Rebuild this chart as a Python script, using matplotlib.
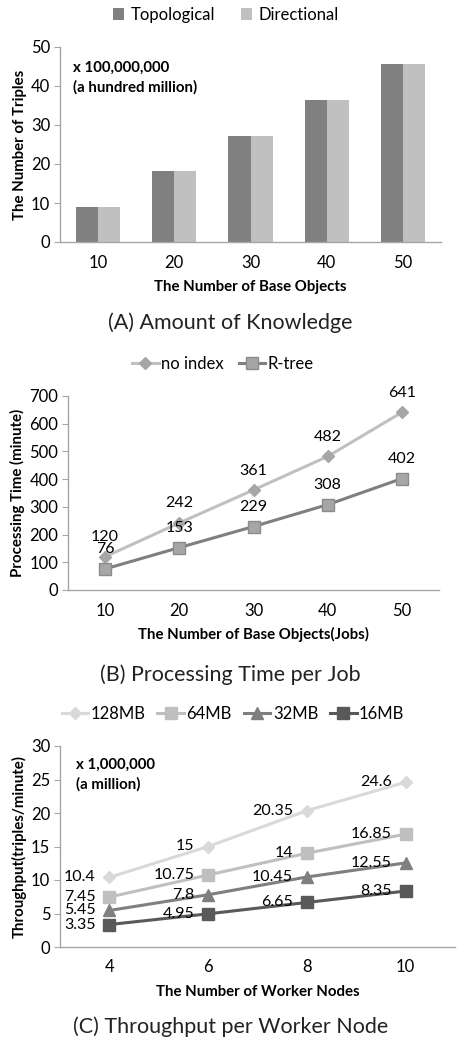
import matplotlib.pyplot as plt

plt.rcParams['font.family'] = ['Lato', 'DejaVu Sans']

# (A) amount of knowledge
base_objects = ['10', '20', '30', '40', '50']
topological = [9.1, 18.2, 27.3, 36.5, 45.7]
directional = [9.1, 18.2, 27.3, 36.5, 45.7]

# (B) processing time per job
no_index = [120, 242, 361, 482, 641]
rtree = [76, 153, 229, 308, 402]

# (C) throughput per worker node
worker_nodes = ['4', '6', '8', '10']
mb128 = [10.4, 15, 20.35, 24.6]
mb64 = [7.45, 10.75, 14, 16.85]
mb32 = [5.45, 7.8, 10.45, 12.55]
mb16 = [3.35, 4.95, 6.65, 8.35]

W, H = 461, 1044
fig = plt.figure(figsize=(W / 100, H / 100), dpi=100)

SPINE = '#a6a6a6'
TXT = '#000000'
TICK_FS = 12
DATA_FS = 11.5
LAB_FS = 10.8
TITLE_FS = 15.5


def px_axes(left, top, right, bottom):
    return fig.add_axes([left / W, 1 - bottom / H, (right - left) / W, (bottom - top) / H])


def style(ax):
    for s in ['top', 'right']:
        ax.spines[s].set_visible(False)
    for s in ['left', 'bottom']:
        ax.spines[s].set_color(SPINE)
        ax.spines[s].set_linewidth(1)
    ax.tick_params(axis='y', length=4, color=SPINE, labelsize=TICK_FS, labelcolor=TXT, pad=3)
    ax.tick_params(axis='x', length=0, labelsize=TICK_FS, labelcolor=TXT, pad=9)


def fig_text(y, s, **kw):
    fig.text(0.5, 1 - y / H, s, ha='center', va='center', **kw)


# ---- panel A ----
ax = px_axes(60, 47, 441, 242)
x = range(len(base_objects))
bw = 0.29
ax.bar([i - bw / 2 for i in x], topological, width=bw, color='#808080', label='Topological')
ax.bar([i + bw / 2 for i in x], directional, width=bw, color='#c0c0c0', label='Directional')
ax.set_xlim(-0.5, 4.5)
ax.set_ylim(0, 50)
ax.set_yticks(range(0, 51, 10))
ax.set_xticks(list(x))
ax.set_xticklabels(base_objects)
style(ax)
ax.set_ylabel('The Number of Triples', fontsize=LAB_FS, fontweight='bold', labelpad=3)
ax.set_xlabel('The Number of Base Objects', fontsize=LAB_FS, fontweight='bold', labelpad=7)
ax.text(0.035, 0.93, 'x 100,000,000\n(a hundred million)', transform=ax.transAxes,
        fontsize=10.8, fontweight='bold', va='top', ha='left', linespacing=1.45)
fig.legend(*ax.get_legend_handles_labels(), loc='center', bbox_to_anchor=(226 / W, 1 - 15 / H),
           ncol=2, frameon=False, fontsize=TICK_FS, handlelength=0.7, handleheight=0.7,
           handletextpad=0.4, columnspacing=1.5)
fig_text(323, '(A) Amount of Knowledge', fontsize=TITLE_FS, color='#222222')

# ---- panel B ----
ax = px_axes(68, 396, 439, 590)
x = list(range(len(base_objects)))
ax.plot(x, no_index, color='#c0c0c0', lw=2.2, marker='D', ms=6,
        mfc='#a6a6a6', mec='#a6a6a6', label='no index')
ax.plot(x, rtree, color='#7f7f7f', lw=2.2, marker='s', ms=8,
        mfc='#a6a6a6', mec='#8c8c8c', label='R-tree')
for xi, v in zip(x, no_index):
    ax.annotate(str(v), (xi, v), xytext=(0, 14), textcoords='offset points',
                ha='center', va='center', fontsize=DATA_FS, color=TXT)
for xi, v in zip(x, rtree):
    ax.annotate(str(v), (xi, v), xytext=(0, 14), textcoords='offset points',
                ha='center', va='center', fontsize=DATA_FS, color=TXT)
ax.set_xlim(-0.5, 4.5)
ax.set_ylim(0, 700)
ax.set_yticks(range(0, 701, 100))
ax.set_xticks(x)
ax.set_xticklabels(base_objects)
style(ax)
ax.set_ylabel('Processing Time (minute)', fontsize=LAB_FS, fontweight='bold', labelpad=3)
ax.set_xlabel('The Number of Base Objects(Jobs)', fontsize=LAB_FS, fontweight='bold', labelpad=6)
fig.legend(*ax.get_legend_handles_labels(), loc='center', bbox_to_anchor=(223 / W, 1 - 364 / H),
           ncol=2, frameon=False, fontsize=TICK_FS, handlelength=1.6,
           handletextpad=0.15, columnspacing=0.9)
fig_text(675, '(B) Processing Time per Job', fontsize=TITLE_FS, color='#222222')

# ---- panel C ----
ax = px_axes(60, 746, 455, 947)
x = list(range(len(worker_nodes)))
series = [(mb128, '128MB', '#d9d9d9', 'D', 6),
          (mb64, '64MB', '#bfbfbf', 's', 8),
          (mb32, '32MB', '#7f7f7f', '^', 8),
          (mb16, '16MB', '#595959', 's', 8)]
for vals, name, col, mk, ms in series:
    ax.plot(x, vals, color=col, lw=2.2, marker=mk, ms=ms, mfc=col, mec=col, label=name)
    for xi, v in zip(x, vals):
        ax.annotate(f'{v:g}', (xi, v), xytext=(-10, 0), textcoords='offset points',
                    ha='right', va='center', fontsize=DATA_FS, color=TXT)
ax.set_xlim(-0.5, 3.5)
ax.set_ylim(0, 30)
ax.set_yticks(range(0, 31, 5))
ax.set_xticks(x)
ax.set_xticklabels(worker_nodes)
style(ax)
ax.set_ylabel('Throughput(triples/minute)', fontsize=LAB_FS, fontweight='bold', labelpad=3)
ax.set_xlabel('The Number of Worker Nodes', fontsize=LAB_FS, fontweight='bold', labelpad=7)
ax.text(0.04, 0.94, 'x 1,000,000\n(a million)', transform=ax.transAxes,
        fontsize=10.8, fontweight='bold', va='top', ha='left', linespacing=1.45)
fig.legend(*ax.get_legend_handles_labels(), loc='center', bbox_to_anchor=(233 / W, 1 - 714 / H),
           ncol=4, frameon=False, fontsize=TICK_FS, handlelength=1.6,
           handletextpad=0.15, columnspacing=0.7)
fig_text(1027, '(C) Throughput per Worker Node', fontsize=TITLE_FS, color='#222222')

fig.savefig('out.png', dpi=100)
